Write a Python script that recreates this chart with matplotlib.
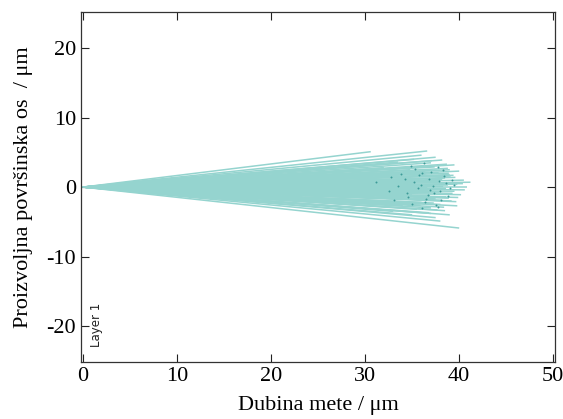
import matplotlib.pyplot as plt

plt.rcParams['font.family'] = 'Liberation Serif'
plt.rcParams['axes.unicode_minus'] = False

# trajectory end points (depth, lateral) in um, each track starts at the origin
end_x = [30.6, 36.6, 36.0, 37.5, 35.2, 38.2, 37.0, 39.5, 36.5, 38.8,
         34.8, 40.0, 37.8, 39.0, 36.2, 38.5, 40.5, 41.2, 39.8, 37.2,
         40.8, 38.0, 39.5, 36.8, 40.2, 38.6, 37.5, 39.2, 36.0, 38.0,
         39.8, 37.0, 35.5, 38.5, 36.8, 39.0, 37.5, 35.0, 40.0, 38.0,
         33.0, 32.0, 33.5, 34.0, 35.8, 34.5, 35.0, 33.0, 36.0, 37.8,
         39.0, 36.4, 38.9, 37.3, 35.6, 39.6, 36.9, 38.3, 34.2, 37.9,
         38.7, 37.4, 39.3, 36.1, 40.4, 38.1, 37.6, 39.9, 35.9, 38.8,
         36.6, 37.1, 39.1, 38.4, 36.3, 40.6, 37.7, 35.4, 38.2, 39.7,
         34.6, 36.7, 38.9, 37.0, 33.8, 39.4, 36.2, 38.6, 37.3, 35.1]
end_y = [5.1, 5.2, 4.6, 4.3, 4.0, 3.9, 3.5, 3.2, 3.0, 2.7,
         2.5, 2.3, 2.1, 1.8, 1.6, 1.3, 1.0, 0.7, 0.4, 0.2,
         0.0, -0.3, -0.6, -0.8, -1.1, -1.4, -1.7, -2.0, -2.2, -2.5,
         -2.7, -3.0, -3.2, -3.4, -3.7, -4.0, -4.4, -4.0, -5.9, -4.9,
         -3.5, 2.8, 3.6, -2.7, 1.0, 0.5, -1.0, 1.5, -0.3, 0.8,
         2.5, 1.9, -1.6, -2.3, 0.9, 1.4, -1.2, 0.1, 2.0, -0.7,
         3.3, 2.9, -0.9, 1.2, 0.5, -1.9, 2.4, -1.5, -2.6, 0.3,
         -0.1, 3.8, 1.6, -2.9, 2.2, -0.4, -3.3, 0.6, 1.1, -2.1,
         -1.3, -0.5, 2.0, -3.8, 0.2, 1.7, -1.8, -0.2, 0.9, -2.4]

# darker collision points near the track ends
dot_x = [31.2, 32.5, 33.8, 34.6, 35.3, 35.9, 36.4, 36.8, 37.3, 37.7,
         38.1, 38.6, 39.0, 33.1, 34.9, 36.1, 37.0, 38.4, 35.6, 36.7,
         37.9, 34.2, 39.4, 36.3, 37.5, 32.8, 35.0, 36.9, 38.3, 37.2,
         34.4, 35.7, 38.8, 36.5, 33.5, 37.8, 39.2, 35.2, 36.0, 38.0]
dot_y = [0.8, -0.5, 1.9, -1.4, 2.6, 0.3, -2.2, 1.1, -0.9, 2.9,
         -1.8, 0.6, -0.2, -1.9, 3.1, -3.0, 2.2, 1.6, -0.1, -1.1,
         0.9, 1.2, 0.3, 3.4, -2.6, 1.4, -2.4, -0.4, 2.4, 0.1,
         -0.8, 1.8, -1.3, -1.7, 0.2, -2.9, 1.0, 0.7, 2.0, -0.6]

x_ticks = [0, 10, 20, 30, 40, 50]
y_ticks = [-20, -10, 0, 10, 20]

fig = plt.figure(figsize=(5.63, 4.19), dpi=100)
ax = fig.add_axes([0.144, 0.136, 0.842, 0.835])

for ex, ey in zip(end_x, end_y):
    ax.plot([0, ex], [0, ey], color='#95d4cf', lw=1.1, solid_capstyle='butt')
ax.scatter(dot_x, dot_y, s=2, color='#3c9a98', linewidths=0, zorder=3)

ax.set_xlim(-0.2, 50.2)
ax.set_ylim(-25.2, 25.2)
ax.set_xticks(x_ticks)
ax.set_yticks(y_ticks)
ax.tick_params(direction='in', length=6, width=0.8, top=True, right=True,
               labelsize=16, colors='#222222', labelcolor='black')
for s in ax.spines.values():
    s.set_linewidth(0.9)
    s.set_color('#333333')

ax.set_xlabel('Dubina mete / μm', fontsize=16, labelpad=7)
ax.set_ylabel('Proizvoljna površinska os  / μm', fontsize=16, labelpad=10)
ax.text(0.8, -19.9, 'Layer 1', rotation=90, fontsize=8.5,
        family='DejaVu Sans', ha='left', va='center', color='#222222')

fig.savefig('out.png', dpi=100)
